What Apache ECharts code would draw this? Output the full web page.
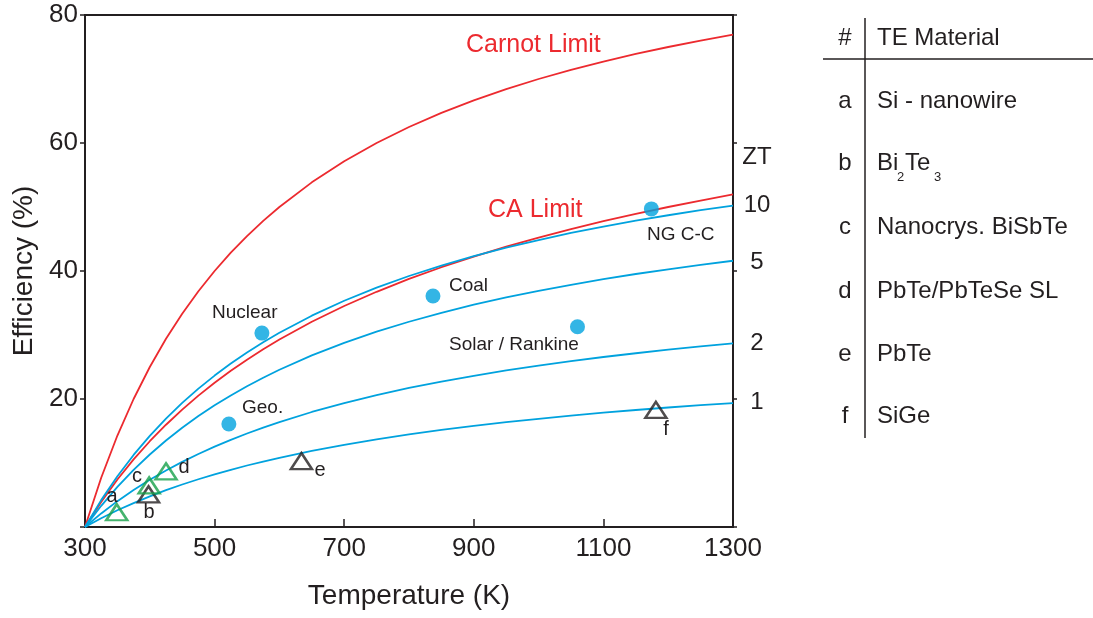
<!DOCTYPE html>
<html>
<head>
<meta charset="utf-8">
<script src="https://cdn.jsdelivr.net/npm/echarts@6/dist/echarts.min.js"></script>
<style>html,body{margin:0;padding:0;background:#fff;}#c{width:1093px;height:618px;}</style>
</head>
<body>
<div id="c"></div>
<script>
// Hot-side temperature samples (K)
const temps = [300, 325, 350, 375, 400, 425, 450, 475, 500, 525, 550, 575, 600, 650, 700, 750, 800, 850, 900, 950, 1000, 1050, 1100, 1150, 1200, 1250, 1300];
// Efficiency (%) curves
const carnot  = [0, 7.69, 14.29, 20.00, 25.00, 29.41, 33.33, 36.84, 40.00, 42.86, 45.45, 47.83, 50.00, 53.85, 57.14, 60.00, 62.50, 64.71, 66.67, 68.42, 70.00, 71.43, 72.73, 73.91, 75.00, 76.00, 76.92];
const caLimit = [0, 3.92, 7.42, 10.56, 13.40, 15.98, 18.35, 20.53, 22.54, 24.41, 26.15, 27.77, 29.29, 32.06, 34.53, 36.75, 38.76, 40.59, 42.26, 43.80, 45.23, 46.55, 47.78, 48.92, 50.00, 51.01, 51.96];
const zt10    = [0, 4.20, 7.93, 11.26, 14.24, 16.94, 19.39, 21.62, 23.66, 25.54, 27.27, 28.87, 30.35, 33.02, 35.35, 37.40, 39.22, 40.85, 42.31, 43.64, 44.84, 45.94, 46.94, 47.86, 48.71, 49.50, 50.23];
const zt5     = [0, 3.31, 6.26, 8.92, 11.33, 13.51, 15.51, 17.33, 19.01, 20.56, 22.00, 23.33, 24.57, 26.81, 28.78, 30.52, 32.07, 33.47, 34.73, 35.87, 36.90, 37.85, 38.73, 39.53, 40.27, 40.96, 41.60];
const zt2     = [0, 2.12, 4.04, 5.78, 7.37, 8.83, 10.17, 11.41, 12.56, 13.62, 14.61, 15.54, 16.40, 17.97, 19.36, 20.60, 21.72, 22.72, 23.63, 24.46, 25.22, 25.92, 26.56, 27.15, 27.70, 28.21, 28.69];
const zt1     = [0, 1.36, 2.61, 3.74, 4.79, 5.75, 6.64, 7.46, 8.23, 8.94, 9.61, 10.23, 10.82, 11.89, 12.84, 13.70, 14.47, 15.17, 15.80, 16.38, 16.91, 17.41, 17.86, 18.28, 18.67, 19.03, 19.37];
const ztLabels = ['ZT', '10', '5', '2', '1'];

// Power plants
const plantNames = ['Nuclear', 'Coal', 'NG C-C', 'Solar / Rankine', 'Geo.'];
const plantTemp  = [573, 837, 1174, 1060, 522];
const plantEff   = [30.3, 36.1, 49.7, 31.3, 16.1];

// Thermoelectric devices
const teKeys      = ['a', 'b', 'c', 'd', 'e', 'f'];
const teTemp      = [349, 398, 399, 425, 634, 1181];
const teEff       = [2.3, 5.1, 6.5, 8.7, 10.3, 18.3];
const teGreen     = [true, false, true, true, false, false];
const teMaterials = ['Si - nanowire', 'Bi2Te3', 'Nanocrys. BiSbTe', 'PbTe/PbTeSe SL', 'PbTe', 'SiGe'];

const xTicks = [300, 500, 700, 900, 1100, 1300];
const yTicks = [20, 40, 60, 80];

const RED = '#ec2a2f', BLUE = '#00a2de', GREEN = '#17a04a', INK = '#231f20';
const FONT = '"Liberation Sans", Arial, Helvetica, sans-serif';

const chart = echarts.init(document.getElementById('c'), null, {renderer: 'canvas'});

function pairs(ys) { return temps.map((t, i) => [t, ys[i]]); }
function curve(name, ys, color) {
  return {
    name, type: 'line', data: pairs(ys), symbol: 'none', smooth: false,
    lineStyle: {color, width: 1.8, join: 'round'}, z: 2, silent: true
  };
}

function txt(x, y, text, size, color, align) {
  return {type: 'text', x, y, z: 20, silent: true,
    style: {text, fontSize: size, fontFamily: FONT, fill: color || INK,
            align: align || 'left', verticalAlign: 'middle'}};
}

const graphics = [];
// curve annotations
graphics.push(txt(466, 45, 'Carnot Limit', 25, RED));
graphics.push(txt(488, 210, 'CA Limit', 25, RED));
const ztY = [157, 205, 262, 343, 402];
ztLabels.forEach((s, i) => graphics.push(txt(757, ztY[i], s, 24, INK, 'center')));
// plant labels
const plantLabelPos = [[212, 313], [449, 286], [647, 235], [449, 345], [242, 408]];
plantNames.forEach((s, i) => graphics.push(txt(plantLabelPos[i][0], plantLabelPos[i][1], s, 19)));
// device letters
const teLabelPos = [[112, 496], [149, 512], [137, 476], [184, 467], [320, 470], [666, 429]];
teKeys.forEach((s, i) => graphics.push(txt(teLabelPos[i][0], teLabelPos[i][1], s, 20, INK, 'center')));

// table
graphics.push({type: 'line', z: 20, silent: true, shape: {x1: 865, y1: 18, x2: 865, y2: 438}, style: {stroke: INK, lineWidth: 1.5}});
graphics.push({type: 'line', z: 20, silent: true, shape: {x1: 823, y1: 59, x2: 1093, y2: 59}, style: {stroke: INK, lineWidth: 1.5}});
graphics.push(txt(845, 38, '#', 24, INK, 'center'));
graphics.push(txt(877, 38, 'TE Material', 24));
const rowY = [101, 163, 227, 291, 354, 416];
teKeys.forEach((k, i) => {
  graphics.push(txt(845, rowY[i], k, 24, INK, 'center'));
  if (teMaterials[i] === 'Bi2Te3') {
    graphics.push(txt(877, rowY[i], 'Bi', 24));
    graphics.push(txt(897, rowY[i] + 14, '2', 13));
    graphics.push(txt(905, rowY[i], 'Te', 24));
    graphics.push(txt(934, rowY[i] + 14, '3', 13));
  } else {
    graphics.push(txt(877, rowY[i], teMaterials[i], 24));
  }
});

const option = {
  backgroundColor: '#fff',
  animation: false,
  grid: {left: 85, right: 360, top: 15, bottom: 91, show: true, borderColor: INK, borderWidth: 2, backgroundColor: 'transparent'},
  xAxis: [{
    type: 'value', min: 300, max: 1300, interval: 200,
    name: 'Temperature (K)', nameLocation: 'middle', nameGap: 55,
    nameTextStyle: {fontSize: 28, fontFamily: FONT, color: INK},
    axisLine: {show: false},
    axisTick: {show: true, inside: true, length: 8, lineStyle: {color: INK, width: 1.5}},
    axisLabel: {fontSize: 26, fontFamily: FONT, color: INK, margin: 9, showMinLabel: true, showMaxLabel: true,
                formatter: v => xTicks.includes(v) ? String(v) : ''},
    splitLine: {show: false}
  }],
  yAxis: [{
    type: 'value', min: 0, max: 80, interval: 20, position: 'left',
    name: 'Efficiency (%)', nameLocation: 'middle', nameGap: 41,
    nameTextStyle: {fontSize: 28, fontFamily: FONT, color: INK},
    axisLine: {show: false},
    axisTick: {show: true, inside: false, length: 5, lineStyle: {color: INK, width: 1.5}},
    axisLabel: {fontSize: 26, fontFamily: FONT, color: INK, margin: 7,
                formatter: v => yTicks.includes(v) ? String(v) : ''},
    splitLine: {show: false}
  }, {
    type: 'value', min: 0, max: 80, interval: 20, position: 'right',
    axisLine: {show: false},
    axisTick: {show: true, inside: false, length: 4, lineStyle: {color: INK, width: 1.5}},
    axisLabel: {show: false},
    splitLine: {show: false}
  }],
  series: [
    curve('Carnot', carnot, RED),
    curve('CA', caLimit, RED),
    curve('ZT10', zt10, BLUE),
    curve('ZT5', zt5, BLUE),
    curve('ZT2', zt2, BLUE),
    curve('ZT1', zt1, BLUE),
    {
      name: 'Plants', type: 'scatter', z: 5, silent: true,
      data: plantTemp.map((t, i) => [t, plantEff[i]]),
      symbol: 'circle', symbolSize: 15,
      itemStyle: {color: BLUE}
    },
    {
      name: 'TE', type: 'scatter', z: 6, silent: true,
      data: teTemp.map((t, i) => ({value: [t, teEff[i]],
        itemStyle: {color: 'rgba(255,255,255,0)', borderColor: teGreen[i] ? GREEN : INK, borderWidth: 2.5}})),
      symbol: 'triangle', symbolSize: [21, 16]
    }
  ],
  graphic: graphics
};
chart.setOption(option);
</script>
</body>
</html>
